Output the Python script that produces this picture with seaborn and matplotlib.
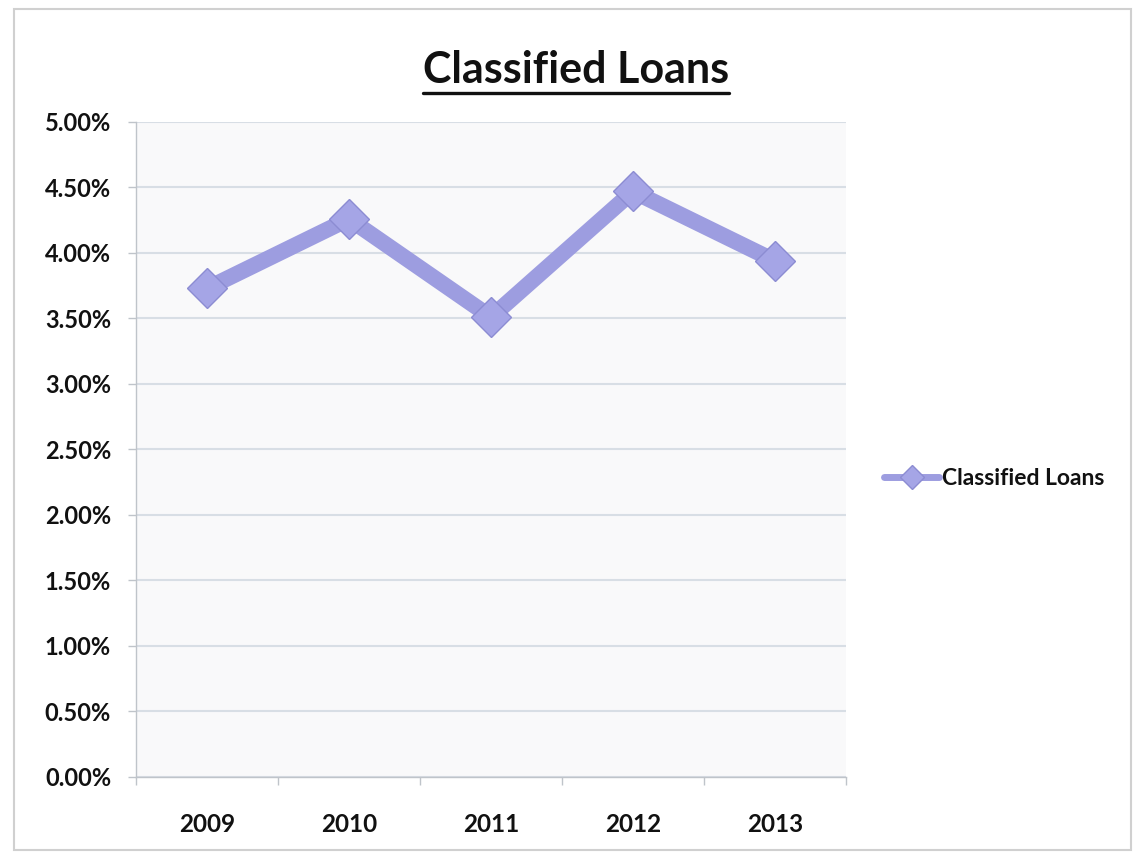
import matplotlib
matplotlib.use("Agg")
import matplotlib.pyplot as plt
from matplotlib.ticker import PercentFormatter, FixedLocator
from matplotlib.patches import Rectangle
import seaborn as sns
import pandas as pd

years = ["2009", "2010", "2011", "2012", "2013"]
classified_loans = [3.73, 4.26, 3.51, 4.47, 3.94]
series_name = "Classified Loans"
chart_title = "Classified Loans"

sns.set_theme(style="white")
plt.rcParams["font.family"] = ["Lato", "DejaVu Sans"]

df = pd.DataFrame({"year": years, "value": classified_loans, "series": series_name})
df["pos"] = range(len(years))

fig = plt.figure(figsize=(11.34, 8.56), dpi=100)
ax = fig.add_axes([0.12, 0.0923, 0.626, 0.7652])
ax.set_facecolor("#f9f9fa")

line_color = "#9d9de0"
sns.lineplot(data=df, x="pos", y="value", hue="series", palette=[line_color],
             linewidth=11.5, marker="D", markersize=20, markerfacecolor="#a5a5e6",
             markeredgecolor="#8c8cd2", markeredgewidth=1, ax=ax, zorder=3)

ax.set_xlim(-0.5, len(years) - 0.5)
ax.set_ylim(0, 5)
ax.set_yticks([i * 0.5 for i in range(11)])
ax.yaxis.set_major_formatter(PercentFormatter(decimals=2))
ax.set_xticks(range(len(years)))
ax.set_xticklabels(years)
ax.xaxis.set_minor_locator(FixedLocator([i + 0.5 for i in range(-1, len(years))]))
ax.tick_params(axis="x", which="major", length=0, pad=26, labelsize=17.5)
ax.tick_params(axis="x", which="minor", length=6, color="#bfc4ca", width=1, direction="out", bottom=True)
ax.tick_params(axis="y", which="major", length=6, color="#bfc4ca", width=1, direction="out", left=True, pad=12, labelsize=17)
for lbl in ax.get_xticklabels() + ax.get_yticklabels():
    lbl.set_fontweight("bold")
    lbl.set_color("#111111")

ax.grid(axis="y", color="#d8dee5", linewidth=1.5)
ax.set_axisbelow(True)
for side in ["top", "right"]:
    ax.spines[side].set_visible(False)
for side in ["left", "bottom"]:
    ax.spines[side].set_color("#bfc4ca")
    ax.spines[side].set_linewidth(1)
ax.set_xlabel("")
ax.set_ylabel("")

ax.set_title(chart_title, fontsize=31, fontweight="bold", color="#111111", pad=28)
title = ax.title
title.set_position((0.62, 1.0))

leg = ax.legend(loc="center left", bbox_to_anchor=(1.025, 0.455), frameon=False,
                fontsize=16.5, handlelength=2.4, handletextpad=0.1)
for t in leg.get_texts():
    t.set_fontweight("bold")
    t.set_color("#111111")
for h in leg.legend_handles:
    h.set_linewidth(5)
    h.set_markersize(12)

fig.patches.append(Rectangle((0.012, 0.007), 0.985, 0.982, transform=fig.transFigure,
                             fill=False, edgecolor="#d0d0d0", linewidth=1.5))

fig.canvas.draw()
# underline the title text
bb = title.get_window_extent().transformed(fig.transFigure.inverted())
fig.add_artist(plt.Line2D([bb.x0, bb.x1], [bb.y0 - 0.003, bb.y0 - 0.003],
                          transform=fig.transFigure, color="#111111", linewidth=2.4))

fig.savefig("out.png", dpi=100)
